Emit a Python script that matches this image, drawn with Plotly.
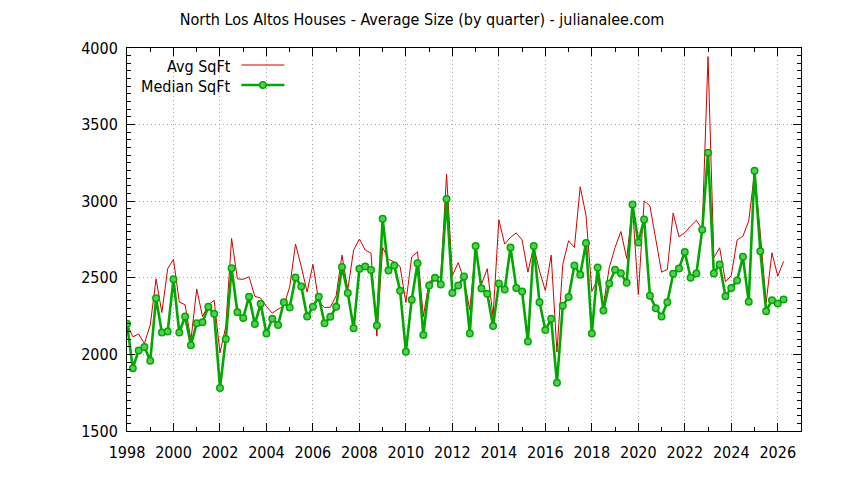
import plotly.graph_objects as go

# Quarterly data, 1998 Q1 .. 2026 Q2 (plotted at year + (q-1)/4)
start_year = 1998
avg_sqft = [
    2200, 2115, 2133, 2071, 2192, 2493, 2273, 2559, 2621, 2342,
    2324, 2093, 2427, 2247, 2324, 2353, 2010, 2181, 2757, 2493,
    2490, 2507, 2379, 2368, 2313, 2269, 2295, 2317, 2441, 2720,
    2573, 2407, 2588, 2346, 2306, 2308, 2383, 2648, 2423, 2681,
    2753, 2681, 2661, 2119, 2698, 2621, 2603, 2573, 2339, 2636,
    2670, 2247, 2476, 2490, 2510, 3176, 2515, 2599, 2489, 2291,
    2698, 2456, 2559, 2247, 2879, 2720, 2764, 2793, 2747, 2537,
    2705, 2544, 2416, 2648, 2015, 2588, 2742, 2698, 3094, 2907,
    2412, 2489, 2324, 2566, 2698, 2802, 2626, 2967, 2390, 3002,
    2969, 2753, 2537, 2555, 2923, 2768, 2794, 2838, 2875, 2816,
    3944, 2631, 2696, 2474, 2515, 2746, 2772, 2870, 3186, 2790,
    2337, 2663, 2511, 2607,
]
median_sqft = [
    2200, 1910, 2025, 2049, 1958, 2366, 2143, 2150, 2491, 2143,
    2247, 2060, 2203, 2210, 2311, 2265, 1781, 2100, 2562, 2275,
    2238, 2377, 2198, 2330, 2137, 2232, 2192, 2341, 2306, 2502,
    2443, 2247, 2311, 2377, 2203, 2245, 2311, 2570, 2401, 2170,
    2559, 2573, 2551, 2189, 2885, 2548, 2581, 2416, 2018, 2357,
    2595, 2126, 2449, 2500, 2456, 3015, 2401, 2449, 2509, 2137,
    2707, 2430, 2396, 2185, 2463, 2423, 2698, 2434, 2410, 2084,
    2707, 2341, 2159, 2232, 1815, 2317, 2374, 2581, 2520, 2727,
    2137, 2568, 2286, 2463, 2553, 2529, 2467, 2978, 2731, 2881,
    2383, 2302, 2247, 2341, 2526, 2561, 2668, 2500, 2528, 2814,
    3317, 2528, 2587, 2380, 2434, 2482, 2637, 2343, 3199, 2673,
    2282, 2354, 2332, 2358,
]
x_dates = [start_year + i / 4 for i in range(len(avg_sqft))]

x_ticks = list(range(1998, 2027, 2))
y_ticks = list(range(1500, 4001, 500))

FONT = "Liberation Sans Narrow, DejaVu Sans Condensed, Arial Narrow, sans-serif"
RED = "#d40000"
GREEN = "#00a800"

fig = go.Figure()
fig.add_trace(go.Scatter(
    x=x_dates, y=avg_sqft, mode="lines", name="Avg SqFt",
    line=dict(color=RED, width=1),
))
fig.add_trace(go.Scatter(
    x=x_dates, y=median_sqft, mode="lines+markers", name="Median SqFt",
    line=dict(color=GREEN, width=2.6),
    marker=dict(symbol="circle", size=6.5, color="#55cc55",
                line=dict(color=GREEN, width=1.5)),
))

axis_common = dict(
    showline=True, linecolor="black", linewidth=1, mirror="allticks",
    ticks="inside", tickcolor="black", ticklen=8, tickwidth=1,
    showgrid=True, gridcolor="#a8a8a8", griddash="1px,3px", gridwidth=1,
    zeroline=False,
    tickfont=dict(family=FONT, size=16, color="black"),
)

fig.update_xaxes(
    range=[1998, 2027], tickvals=x_ticks, ticktext=[str(v) for v in x_ticks],
    minor=dict(ticks="inside", dtick=1, tick0=1998, ticklen=4,
               tickcolor="black", showgrid=False),
    ticklabelstandoff=7,
    **axis_common,
)
fig.update_yaxes(
    range=[1500, 4000], tickvals=y_ticks, ticktext=[str(v) for v in y_ticks],
    minor=dict(ticks="inside", dtick=50, tick0=1500, ticklen=4,
               tickcolor="black", showgrid=False),
    ticklabelstandoff=5,
    **axis_common,
)

# gnuplot-style legend (text left, sample right)
legend_font = dict(family=FONT, size=16, color="black")
px = lambda v: (v - 126.5) / 674.5
py = lambda v: (431 - v) / 383
fig.add_annotation(xref="paper", yref="paper", x=px(233), y=py(66),
                   text="Avg SqFt", showarrow=False,
                   xanchor="right", yanchor="middle", font=legend_font)
fig.add_annotation(xref="paper", yref="paper", x=px(233), y=py(86),
                   text="Median SqFt", showarrow=False,
                   xanchor="right", yanchor="middle", font=legend_font)
fig.add_shape(type="line", xref="paper", yref="paper",
              x0=px(241), x1=px(284), y0=py(65), y1=py(65),
              line=dict(color=RED, width=1))
fig.add_shape(type="line", xref="paper", yref="paper",
              x0=px(241), x1=px(284), y0=py(85), y1=py(85),
              line=dict(color=GREEN, width=2.6))
fig.add_shape(type="circle", xref="paper", yref="paper",
              x0=px(259.3), x1=px(265.7), y0=py(81.8), y1=py(88.2),
              fillcolor="#55cc55", line=dict(color=GREEN, width=1.5))

fig.update_layout(
    width=844, height=480,
    margin=dict(l=126.5, r=43, t=48, b=49),
    paper_bgcolor="white", plot_bgcolor="white",
    showlegend=False,
    title=dict(text="North Los Altos Houses - Average Size (by quarter) - julianalee.com",
               x=0.5, xanchor="center", y=1 - 19 / 480, yanchor="middle",
               font=dict(family=FONT, size=16, color="black")),
)

fig.write_html("out.html")
